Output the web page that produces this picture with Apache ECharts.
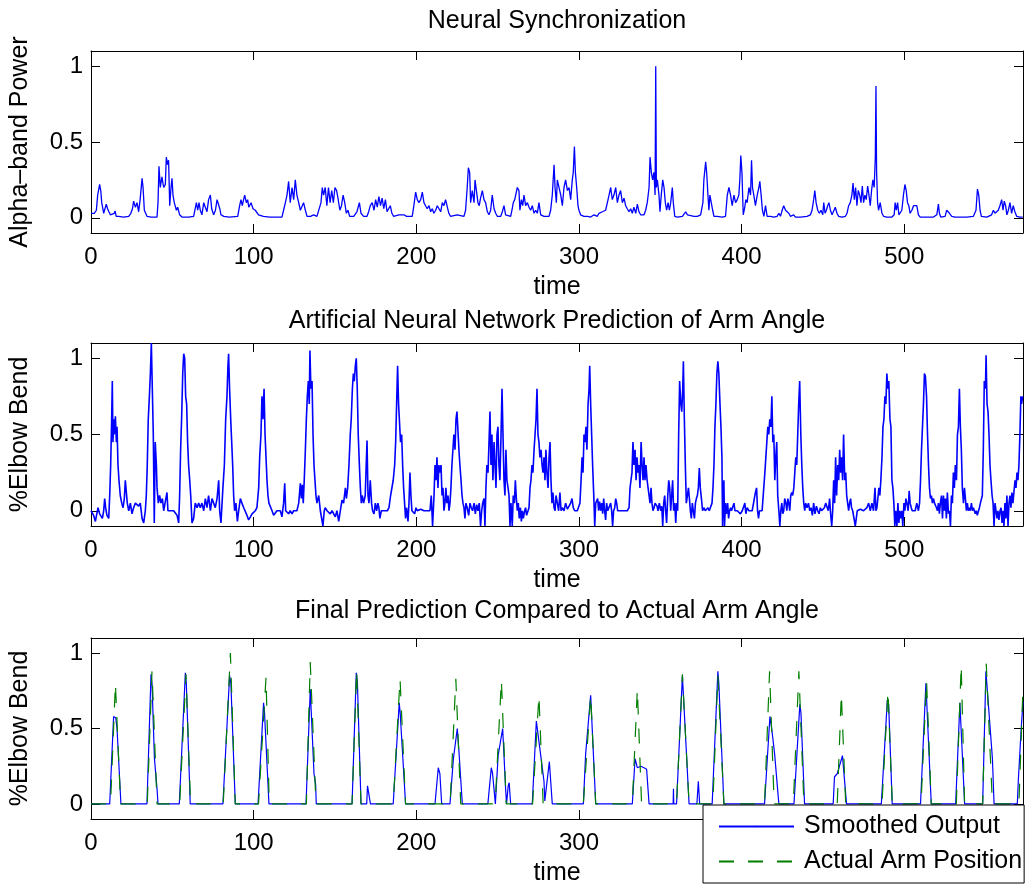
<!DOCTYPE html>
<html>
<head>
<meta charset="utf-8">
<script src="https://cdn.jsdelivr.net/npm/echarts@6/dist/echarts.min.js"></script>
<style>
  html, body { margin: 0; background: #fff; }
  #chart { width: 1030px; height: 888px; }
</style>
</head>
<body>
<div id="chart"></div>
<script>
const FONT = 'Liberation Sans, Arial, Helvetica, sans-serif';

const xTickValues = [0, 100, 200, 300, 400, 500];
const yTickValues = [0, 0.5, 1];
const panelTitles = ['Neural Synchronization', 'Artificial Neural Network Prediction of Arm Angle', 'Final Prediction Compared to Actual Arm Angle'];
const yNames = ['Alpha–band Power', '%Elbow Bend', '%Elbow Bend'];
const legendNames = ['Smoothed Output', 'Actual Arm Position'];

// [time, alpha-band power]
const alphaPower = [
  [0,0.03],[1,0.035],[2,0.03],[3.3,0.05],[4.1,0.15],[5.3,0.22],[6,0.18],[6.6,0.1],[7.8,0.03],[8.6,0.04],[9.4,0.09],[10.2,0.06],
  [11,0.04],[11.9,0.02],[13,0.01],[14.3,0.03],[14.8,0.045],[15.5,0.01],[17,0.01],[20,0.005],[23.2,0.01],[24.5,0.03],[25.5,0.06],
  [26.2,0.11],[27.3,0.07],[28.3,0.1],[29.3,0.04],[30.2,0.12],[31.4,0.26],[32,0.2],[32.8,0.05],[34.4,0.01],[37,0.005],[40.6,0.005],
  [41.2,0.1],[41.8,0.34],[42.6,0.2],[43.6,0.27],[44.7,0.2],[45.7,0.22],[46.3,0.4],[47.1,0.35],[47.7,0.38],[48.4,0.08],[49.2,0.2],
  [49.8,0.26],[50.4,0.15],[51.2,0.1],[52.5,0.05],[53.3,0.07],[54.5,0.02],[55.9,0.005],[60,0.005],[63.1,0.01],[64.8,0.1],[65.6,0.05],
  [66.4,0.1],[67.2,0.05],[68.2,0.02],[69.3,0.1],[70.3,0.1],[71.3,0.04],[72.3,0.12],[73.4,0.15],[74.2,0.06],[75.4,0.02],[76.5,0.05],
  [77.5,0.12],[78.5,0.13],[79.2,0.06],[79.9,0.02],[81.6,0.01],[85,0.005],[90.2,0.01],[91.4,0.08],[92.2,0.12],[93,0.08],[93.4,0.1],
  [94.5,0.15],[95.5,0.1],[96.3,0.12],[97,0.07],[97.5,0.08],[98.4,0.1],[99.6,0.06],[101,0.05],[103,0.02],[106,0.01],[110,0.005],
  [117.4,0.005],[118.4,0.05],[119.5,0.1],[120.5,0.15],[121.5,0.24],[122.5,0.1],[123.6,0.2],[124.6,0.12],[125.6,0.25],[126.6,0.15],
  [127.7,0.1],[128.7,0.05],[129.7,0.04],[130.7,0.1],[131.8,0.05],[132.8,0.01],[135,0.01],[136.9,0.02],[137.9,0.03],[138.9,0.01],
  [140,0.02],[141.4,0.1],[142.2,0.2],[143,0.15],[144,0.2],[145,0.08],[146,0.2],[147,0.1],[148,0.18],[149,0.1],[150,0.2],[151,0.18],
  [152,0.12],[153,0.05],[154,0.08],[155,0.15],[156,0.1],[157,0.03],[158,0.05],[159,0.01],[161.5,0.01],[163.5,0.04],[164.5,0.03],
  [165,0.1],[166,0.03],[167.6,0.01],[169.7,0.01],[170.7,0.04],[171.7,0.08],
  [172.9,0.1],[174,0.05],[175,0.12],[176,0.07],[177,0.14],[178,0.08],[179,0.13],[180,0.06],[181,0.12],[182,0.04],[183,0.05],
  [184,0.08],[185,0.03],[186,0.01],[189.3,0.02],[190.5,0.01],[192.4,0.02],[194,0.01],[197.5,0.01],[198.5,0.08],[199.6,0.17],
  [200.6,0.12],[201.6,0.1],[202.7,0.12],[203.7,0.17],[204.7,0.1],[205.7,0.08],[206.7,0.06],[207.8,0.08],[208.8,0.04],[209.8,0.06],
  [210.8,0.03],[211.9,0.05],[212.9,0.08],[213.9,0.09],[215,0.04],[216,0.1],[217,0.08],[218,0.12],[219,0.13],[220,0.03],[221,0.01],
  [225.2,0.02],[229.3,0.01],[230.3,0.05],[231.3,0.2],[232,0.33],[232.8,0.3],[233.4,0.1],[234.4,0.18],[235.5,0.1],[236.1,0.25],
  [237.1,0.25],[237.9,0.1],[238.7,0.08],[239.5,0.13],[240.6,0.18],[241.6,0.12],[242.6,0.1],[243.7,0.04],[244.7,0.02],[245.7,0.05],
  [246.7,0.15],[247.8,0.06],[248.8,0.03],[249.8,0.01],[251.9,0.01],[252.9,0.04],[253.9,0.08],[254.9,0.02],[256,0.01],[258,0.01],
  [259,0.06],[259.6,0.1],[260.5,0.12],[261.3,0.13],[262.1,0.2],[263.1,0.18],[263.7,0.05],[264.6,0.12],[265.4,0.08],[266.2,0.15],
  [267.2,0.08],[268.3,0.1],[269.3,0.07],[270.3,0.05],[271.3,0.08],[272.4,0.03],[273.4,0.05],[274.4,0.03],[275.4,0.1],[276.5,0.02],
  [278.5,0.01],[281.6,0.01],[282.6,0.05],[283.6,0.15],[284.7,0.35],[285.3,0.2],[286.1,0.1],[286.7,0.25],[287.7,0.24],[288.8,0.15],
  [289.8,0.08],[290.8,0.2],[291.8,0.25],[292.9,0.18],[293.9,0.2],[294.9,0.12],[295.9,0.25],[296.5,0.3],[297.2,0.47],[297.8,0.3],
  [298.6,0.2],[299.4,0.08],[300,0.05],[301,0.02],[303.1,0.01],[305.2,0.01],[307.2,0.005],[309.3,0.02],[311.3,0.01],[312.3,0.03],
  [313.4,0.02],[314.4,0.04],[315.4,0.03],[316.4,0.05],[317.4,0.05],[318.5,0.15],[319.5,0.2],[320.5,0.12],[321.5,0.15],[322.6,0.2],
  [323.6,0.1],[324.6,0.15],[325.6,0.18],[326.7,0.1],[327.7,0.13],[328.7,0.08],[329.7,0.06],[330.8,0.04],[331.8,0.06],[332.8,0.03],
  [333.8,0.07],[334.9,0.03],[335.9,0.09],[336.9,0.04],[337.9,0.02],[339,0.03],[340,0.02],[341,0.05],[342,0.1],[343.1,0.2],
  [343.7,0.4],[344.5,0.3],[345.3,0.25],[346.1,0.3],[346.8,0.15],[347.2,1.0],[347.6,0.2],[348.2,0.25],[349.2,0.15],[349.8,0.04],
  [350.6,0.15],[351.5,0.25],[352.3,0.2],[353.1,0.1],[353.9,0.05],[354.8,0.1],[355.6,0.05],[356.4,0.1],[357.4,0.2],[358,0.1],
  [358.9,0.01],[360.5,0.005],[363.6,0.01],[364.6,0.02],[365.6,0.04],[366.7,0.02],[367.7,0.01],[370.7,0.01],[372.8,0.01],[374.8,0.02],
  [375.5,0.03],[376.2,0.1],[376.8,0.25],[377.9,0.37],[378.5,0.3],[379.3,0.15],[379.9,0.05],[380.5,0.15],[381.3,0.16],[382.2,0.05],
  [383,0.01],[385,0.01],[388,0.005],[390.1,0.01],[391.2,0.15],[392.2,0.2],[393.2,0.15],[394.2,0.08],[395.3,0.15],[396.3,0.1],
  [397.3,0.12],[398.3,0.15],[398.9,0.25],[399.5,0.41],[400.2,0.3],[401,0.02],[401.8,0.06],[402.6,0.12],[403.4,0.1],[404.5,0.2],
  [405.5,0.15],[406.1,0.38],[406.7,0.2],[407.5,0.15],[408.5,0.08],[409.6,0.15],[410.6,0.2],[411.2,0.24],[412,0.15],[412.8,0.05],
  [413.7,0.01],[414.7,0.08],[415.7,0.01],[417.7,0.01],[419.8,0.005],[421.8,0.01],[422.9,0.03],[423.9,0.01],[424.9,0.05],[425.9,0.08],
  [427,0.05],[428,0.06],[429,0.03],[430,0.01],[431,0.02],[432,0.02],[433.1,0.005],[436.2,0.005],[440.2,0.01],[442.3,0.02],
  [443.3,0.05],[444.3,0.12],[445,0.18],[445.8,0.1],[446.8,0.05],[447.8,0.03],[448.8,0.05],[449.9,0.02],[450.5,0.1],[451.3,0.03],
  [452.1,0.05],[452.9,0.08],[453.7,0.1],[454.6,0.05],[455.6,0.02],[456.6,0.03],[457.6,0.07],[458.6,0.03],[459.7,0.01],[461.7,0.005],
  [463.8,0.01],[464.8,0.03],[465.8,0.08],[466.8,0.1],[467.8,0.15],[468.5,0.23],[469.3,0.12],[470.1,0.2],[470.9,0.08],[471.7,0.18],
  [472.6,0.15],[473.4,0.1],[474.2,0.21],[475,0.1],[475.8,0.15],[476.6,0.12],[477.5,0.21],[478.3,0.15],[479.1,0.08],[479.9,0.18],
  [480.7,0.25],[481.5,0.2],[482.2,0.4],[482.6,0.87],[483,0.3],[483.6,0.1],[484.2,0.05],[485.2,0.1],[486.3,0.03],[487.3,0.01],
  [489.3,0.005],[492.4,0.005],[493.8,0.02],[494.4,0.1],[495.1,0.05],[495.9,0.1],[496.7,0.02],[497.5,0.01],[498.5,0.05],[499.5,0.15],
  [500.4,0.22],[501.2,0.18],[502,0.1],[502.8,0.08],[503.6,0.03],[504.7,0.05],[505.7,0.08],[506.7,0.09],[507.7,0.08],[508.7,0.02],
  [509.8,0.005],[518,0.005],[520,0.02],[521,0.09],[521.6,0.03],[522.4,0.005],[525.1,0.01],[526.1,0.05],[526.7,0.06],[527.8,0.03],
  [529.2,0.01],[531.2,0.005],[538.4,0.005],[542.5,0.01],[544.1,0.05],[545,0.19],[545.8,0.15],[546.6,0.05],[547.4,0.01],[550.7,0.005],
  [553.7,0.02],[554.8,0.05],[555.8,0.03],[556.8,0.02],[557.8,0.05],[558.8,0.08],[559.9,0.12],[560.7,0.05],[561.5,0.11],[562.3,0.08],
  [563.1,0.02],[564,0.05],[565,0.1],[566,0.03],[567,0.08],[568,0.04],[569.1,0.01],[571.1,0.005],[572.8,0.005]
];

// [time, network prediction of elbow bend]
const annPrediction = [
  [0,0],[0.6,0],[1.6,-0.03],[2.7,-0.07],[3.7,-0.08],[4.3,0.02],[5.3,-0.02],[6.1,-0.01],[7,-0.05],[7.8,0],[8.4,0.08],[9,0.02],
  [9.8,-0.03],[10.9,-0.05],[11.5,0.1],[12.1,0.3],[12.7,0.6],[13.1,0.85],[13.5,0.45],[13.9,0.6],[14.3,0.5],[15,0.62],[15.6,0.45],
  [16,0.55],[16.6,0.3],[17.2,0.2],[18,0.1],[18.9,0.05],[19.7,0.02],[20.5,0.08],[21.1,0.2],[21.7,0.2],[22.3,0.05],[23.2,0],
  [24.2,0.05],[25.2,-0.02],[26.2,0.02],[27.3,0.05],[28.3,0.06],[29.3,0.03],[30.3,0.05],[31.4,-0.05],[32.4,-0.08],[33.4,0],[34,0.1],
  [34.6,0.3],[35.2,0.6],[35.9,0.75],[36.5,0.9],[37.1,1.1],[37.7,0.8],[38.3,0.5],[38.9,-0.08],[39.5,0.45],[40.2,0.3],[40.6,0.15],
  [41.4,0.05],[42.2,0.1],[43,0.05],[43.9,0.08],[44.7,0],[45.7,0],[46.7,0.12],[47.3,0],[48.8,0],[50.8,0],[51.8,0],[52.9,-0.03],
  [53.9,-0.08],[54.5,0.1],[55.1,0.4],[55.7,0.6],[56.4,0.9],[57,1.03],[57.6,1.0],[58.2,0.75],[58.8,0.7],[59.4,0.45],[60,0.3],
  [60.7,0.2],[61.3,0.1],[62.1,-0.08],[63.1,-0.05],[64.1,0.05],[65.2,0.02],[66.2,0.05],[67.2,0.02],[68.2,0.05],[69.3,0],[70.3,0.08],
  [71.3,0.02],[72.3,0.1],[73.4,0],[74.4,0.08],[75.4,0.05],[76.4,0.02],[77.5,0.08],[78.5,0.2],[79.1,0],[79.9,-0.08],[81.1,0.15],
  [82,0.3],[82.8,0.6],[83.6,0.75],[84.2,0.95],[84.6,1.03],[85.2,0.8],[85.9,0.6],[86.5,0.45],[87.1,0.3],[87.7,0.1],[88.3,0],
  [89.1,0.05],[90,-0.07],[90.8,0],[91.8,0.08],[92.8,0.05],[93.9,0.02],[94.9,0.02],[95.9,-0.03],[96.9,-0.06],[98,-0.04],[99,-0.02],
  [100,-0.02],[101,0],[102,0.02],[103.1,0.15],[103.7,0.35],[104.5,0.5],[105.1,0.75],[105.7,0.6],[106.4,0.8],[107,0.5],[107.6,0.35],
  [108.2,0.2],[108.8,0.1],[109.4,0.05],[110.2,0.05],[111.3,0],[112.3,-0.03],[113.3,-0.04],[114.3,0],[115.4,-0.01],[116.4,0],
  [117.4,-0.04],[118.4,0.05],[119.1,0.18],[119.7,0],[120.5,0],[121.5,-0.02],[122.5,0],[123.6,-0.02],[124.6,0],[125.6,0],[126.6,0],
  [127.7,0.05],[128.7,0.18],[129.3,0.08],[129.9,0.17],[130.5,0.05],[131.1,0.2],[131.8,0.4],[132.4,0.6],[133,0.75],[133.6,0.85],
  [134.2,0.7],[134.6,1.05],[135.2,0.8],[135.9,0.85],[136.5,0.5],[137.1,0.3],[137.7,0.2],[138.3,0.1],[138.9,0.05],[140,0.1],[141,0],
  [142,0],[142.6,-0.1],[143.4,0],[144,0.02],[145.1,0],[146.1,0],[147.1,-0.02],[148.2,0],[149.2,0],[150.2,-0.04],[151.2,0],
  [152.3,-0.07],[153.3,0],[154.3,0.07],[155.3,0.05],[156.4,0.15],[157,0.08],[157.8,0.15],[158.6,0.3],[159.4,0.5],[160,0.6],
  [160.7,0.8],[161.3,0.9],[161.9,0.85],[162.5,0.95],[163.1,1.0],[163.7,0.8],[164.3,0.5],[165,0.3],[165.6,0.15],[166.2,0.05],
  [166.8,0.1],[167.6,0.05],[168.6,0.1],[169.7,0.46],[170.3,0.1],[170.9,0.05],[171.7,0.2],
  [172.5,0.05],[173.1,0],[174,-0.02],[174.8,0.05],[175.6,0],[176.4,0.05],[177,0.02],[177.6,-0.05],[178.5,0],[179.3,0.01],[180.1,0],
  [181.1,-0.01],[182.2,0],[183.2,0.02],[184.2,0.1],[185.2,0.1],[185.8,0.2],[186.7,0.3],[187.3,0.45],[187.9,0.7],[188.5,0.95],
  [189.1,0.7],[189.7,0.69],[190.3,0.45],[191,0.5],[191.6,0.3],[192.2,0.15],[192.8,0.05],[193.4,-0.05],[194,0.02],[194.9,-0.07],
  [195.5,0.05],[196.1,0.25],[196.7,0.1],[197.3,0],[198.1,0],[199,-0.02],[199.8,0.02],[200.6,0],[201.6,0],[202.7,0.01],[203.7,0],
  [204.7,0],[205.7,0],[206.8,0],[207.8,0],[208.4,0],[209.2,0.1],[210,-0.1],[210.9,0.1],[211.5,0.3],[212.1,0.2],[212.7,0.35],
  [213.3,0.15],[213.9,0.3],[214.5,0.25],[215.2,0.3],[215.8,0.1],[216.4,0.15],[217,0],[217.6,0.05],[218.2,0.15],[218.8,0.05],
  [219.5,0.1],[220.1,0],[220.7,0.05],[221.3,0.15],[221.9,0.3],[222.5,0.4],[223.1,0.5],[223.8,0.4],[224.4,0.6],[225,0.65],
  [225.6,0.64],[226.2,0.4],[226.8,0.3],[227.5,0.2],[228.1,0.1],[228.7,0.05],[229.3,0.02],[229.9,-0.05],[230.5,0.05],[231.3,0.02],
  [232.2,-0.03],[233,0.05],[233.8,0.02],[234.6,0],[235.5,0.05],[236.3,-0.02],[237.1,0.04],[237.9,0],[238.7,0.05],[239.5,-0.1],
  [240.2,0],[240.8,0.05],[241.6,0.08],[242.2,-0.1],[242.8,0.15],[243.4,0.3],[244.1,0.25],[244.7,0.45],[245.3,0.65],[245.9,0.3],
  [246.5,0.5],[247.1,0.2],[247.8,0.45],[248.4,0.3],[249,0.15],[249.6,0.5],[250.2,0.55],[250.8,0.3],[251.4,0.2],[252.1,0.5],
  [252.7,0.8],[253.3,0.5],[253.9,0.2],[254.5,0.1],[255.1,0.4],[255.7,0.2],[256.4,0.15],[257,0.1],[257.6,-0.1],[258.2,0.05],
  [259,-0.1],[259.6,0.1],[260.3,0.05],[260.9,0.2],[261.5,0.08],[262.1,0],[262.7,0.05],[263.3,-0.05],[264,0.02],[264.6,-0.07],
  [265.2,0],[265.8,-0.05],[266.6,0],[267.2,0.02],[267.8,-0.03],[268.7,0],[269.3,0.02],[269.9,0.15],[270.5,0.2],[271.1,0.3],
  [271.7,0.25],[272.4,0.4],[273,0.5],[273.6,0.6],[274.2,0.8],[274.8,0.5],[275.4,0.45],[276,0.35],[276.7,0.4],[277.3,0.3],
  [277.9,0.25],[278.5,0.35],[279.1,0.2],[279.7,0.4],[280.3,0.25],[281,0.15],[281.6,0.35],[282.2,0.45],[282.8,0.2],[283.4,0.05],
  [284,0.12],[284.7,0.02],[285.3,0],[285.9,0.1],[286.7,0.05],[287.5,0],[288.3,0.12],[289,0],[289.8,0.02],[290.8,0],[291.8,0.05],
  [292.9,0.01],[293.9,0],[294.9,0.05],[295.7,0.08],[296.5,0.02],[297.4,0],[298.2,0],[299,0],[300,0],[300.6,0.05],[301.3,0.2],
  [301.9,0.35],[302.5,0.25],[303.1,0.5],[303.7,0.45],[304.3,0.55],[304.9,0.4],[305.6,0.7],[306.2,0.8],[306.6,0.95],[307.2,0.7],
  [307.8,0.5],[308.4,0.3],[309.1,0.1],[309.7,-0.1],[310.3,0.05],[310.9,0.05],[311.5,0.08],[312.1,0],[312.7,0.06],[313.4,0],
  [314,0.05],[314.6,-0.02],[315.2,0.08],[315.8,0],[316.4,-0.06],[317,0.05],[317.7,0],[318.5,0],[319.5,0.05],[320.1,0],[320.7,-0.1],
  [321.3,0],[322,0.02],[322.6,0.08],[323.2,0.05],[323.8,0],[324.6,0],[325.6,0],[326.7,0],[327.7,0],[328.7,0],[329.7,0],
  [330.8,0.02],[331.4,0.15],[332,0.2],[332.6,0.25],[333.2,0.45],[333.8,0.3],[334.5,0.4],[335.1,0.2],[335.7,0.35],[336.3,0.25],
  [336.9,0.3],[337.5,0.15],[338.2,0.45],[338.8,0.3],[339.4,0.2],[340,0.35],[340.6,0.2],[341.2,0.3],[341.9,0.2],[342.5,0.15],
  [343.1,0.1],[343.7,0.05],[344.3,0.15],[344.9,0.05],[345.5,0],[346.2,0.02],[346.8,0.05],[347.4,0.05],[348,0.03],[348.6,0],
  [349.4,0.05],[350.3,0],[350.9,0.03],[351.5,-0.1],[352.1,0.05],[352.7,0.1],[353.3,0],[353.9,-0.08],[354.6,0.1],[355.2,0.2],
  [355.8,0.15],[356.4,0],[357,0.1],[357.6,0.2],[358.2,0],[358.9,0.05],[359.5,-0.08],[360.1,0.05],[360.7,0],[361.3,0.5],
  [361.9,0.85],[362.6,0.7],[363.2,0.65],[363.8,0.8],[364.2,0.98],[364.8,0.6],[365.4,0.3],[366,0.05],[366.7,0.1],[367.3,0.15],
  [367.9,0.08],[368.5,0],[369.1,-0.05],[369.7,0.05],[370.3,0],[371,-0.05],[371.6,0.05],[372.2,0.08],[372.8,0.1],[373.4,0.15],
  [374,0.28],[374.6,0.15],[375.3,0.08],
  [376,0],[376.8,0.02],[377.7,0],[378.5,0.01],[379.3,0.02],[380.1,0],[380.9,0],[381.8,0.05],[382.4,0.15],[383,0.3],[383.6,0.55],
  [384.2,0.7],[384.8,0.9],[385.4,0.98],[386,0.9],[386.7,0.7],[387.3,0.55],[387.9,0.35],[388.3,-0.1],[388.7,0.1],[389.1,0.2],
  [389.5,-0.1],[390.1,0.05],[390.7,-0.02],[391.4,0.05],[392,-0.05],[392.6,0],[393.2,0.02],[393.8,0],[394.4,0],[395.3,0.05],
  [395.9,0],[396.5,0.01],[397.3,0],[398.3,0],[399.3,-0.02],[400.4,0],[401.4,0],[402,0.05],[402.6,-0.02],[403.4,0.02],[404.5,0],
  [405.5,0],[406.5,0],[407.5,0],[408.5,0.12],[409.2,0.15],[409.8,0],[410.4,-0.05],[411,0],[411.6,0],[412.6,0],[413.7,0],
  [414.3,0.25],[414.9,0.35],[415.5,0.45],[416.1,0.55],[416.7,0.5],[417.3,0.6],[418,0.55],[418.6,0.75],[419.2,0.45],[419.8,0.5],
  [420.4,0.2],[421,0.35],[421.6,0.45],[422.2,0.1],[422.9,0],[423.5,-0.1],[424.1,0],[424.7,0.05],[425.3,-0.02],[425.9,0],
  [426.5,0.08],[427.2,0.05],[427.8,0],[428.4,0.08],[429,0.05],[429.6,0],[430.2,0.1],[430.8,0.12],[431.4,0.1],[432.1,0.15],
  [432.7,0.25],[433.3,0.35],[433.9,0.3],[434.5,0.5],[435.1,0.7],[435.7,0.85],[436.4,0.5],[437,0.3],[437.6,0.15],[438.2,0.05],
  [438.8,0],[439.4,0.05],[440.2,0.02],[441.1,0.05],[441.9,0],[442.7,0.02],[443.5,-0.03],[444.3,0.05],[445.1,-0.02],[446,0.03],
  [446.8,0],[447.6,-0.02],[448.4,0.02],[449.2,0],[450,0],[450.9,0.02],[451.7,0.05],[452.5,0.05],[453.3,0],[454.1,0.08],
  [454.8,-0.03],[455.4,-0.1],[456,0],[456.6,0.2],[457.2,0.05],[457.8,0.35],[458.4,0.1],[459.1,0.3],[459.7,0.2],[460.3,0.4],
  [460.9,0.25],[461.5,0.35],[462.1,0.2],[462.7,0.5],[463.4,0.2],[464,0.25],[464.6,0.1],[465.2,0.05],[465.8,0],[466.4,0.05],
  [467,0.08],[467.6,0.02],[468.3,0],[468.9,0],[469.9,-0.1],[470.5,-0.05],[471.1,0],[471.9,0],[473,0.01],[474,0],[475,0],[476,0],
  [477,0.02],[478.1,0.05],[479.1,0],[480.1,0.05],[481.1,0],[482,0.15],[482.6,0],[483.2,0.02],[483.8,0.03],[484.4,0.15],[485,0.1],
  [485.6,0.2],[486.3,0.35],[486.9,0.55],[487.5,0.6],[488.1,0.75],[488.7,0.7],[489.3,0.9],[489.9,0.8],[490.5,0.85],[491.2,0.6],
  [491.8,0.55],[492.4,0.2],[493,0.15],[493.6,0.05],[494.2,-0.1],[494.8,0],[495.5,-0.1],[496.1,0.05],[496.7,-0.08],[497.3,0],
  [497.9,-0.05],[498.5,0],[499.1,-0.1],[499.8,0.05],[500.4,0],[501,0.08],[501.6,0.05],[502.4,0],[503,0.13],[503.6,0.05],
  [504.3,0.02],[504.9,0],[505.7,0],[506.7,0],[507.7,0.05],[508.7,0],[509.4,0.05],[510,0.2],[510.6,0.4],[511.2,0.55],[511.8,0.7],
  [512.4,0.9],[513,0.88],[513.7,0.75],[514.3,0.5],[514.9,0.3],[515.5,0.15],[516.1,0.08],[516.7,0.1],[517.3,0.05],[518,0.08],
  [518.6,0.05],[519.2,0.05],[519.8,0.02],[520.4,0],[521,0.05],[521.6,-0.02],[522.2,0.05],[522.9,0.1],[523.5,-0.05],[524.1,0.1],
  [524.7,0],[525.3,0.08],[525.9,-0.05],[526.5,0.12],[527.2,-0.02],[527.8,0],[528.4,-0.1],[529,0.1],[529.6,0.05],[530.2,0.25],
  [530.8,0.15],[531.4,0.3],[532.1,0.2],[532.7,0.5],[533.3,0.55],[533.9,0.8],[534.5,0.55],[535.1,0.4],[535.7,0.15],[536.4,0.05],
  [537,0.15],[537.6,0.08],[538.2,0],[538.8,0.05],[539.4,0],[540,0.02],[540.6,0],[541.3,0.05],[541.9,0],[542.5,0.02],[543.1,0],
  [543.7,-0.02],[544.3,0],[544.9,-0.03],[545.6,-0.04],[546.2,0.02],[546.8,0.05],[547.4,0.05],[548,0.1],[548.6,0.4],[549.2,0.85],
  [549.9,0.8],[550.3,1.02],[550.9,0.7],[551.5,0.65],[552.1,0.5],[552.7,0.3],[553.3,0.2],[554,0.1],[554.6,0.05],[555.2,-0.1],
  [555.8,0.05],[556.4,0],[557,-0.05],[557.6,0],[558.2,-0.06],[558.9,0],[559.5,0.02],[560.1,-0.08],[560.7,0],[561.3,-0.1],
  [561.9,0.05],[562.5,-0.05],[563.1,0.1],[563.8,-0.1],[564.4,0.05],[565,0.1],[565.6,0.02],[566.2,0.12],[566.8,0.05],[567.4,0.12],
  [568.1,0.2],[568.7,0.15],[569.3,0.25],[569.9,0.2],[570.5,0.3],[571.1,0.5],[571.7,0.75],[572.1,0.7],[572.8,0.75]
];

// [time, smoothed output]
const smoothedOutput = [
  [0,0],[11.5,0],[13.9,0.58],[14.5,0.59],[15.2,0.57],[16,0.5],[18.4,0],[34.4,0],[36.9,0.86],[37.5,0.8],[39,0.3],[40.6,0.1],
  [41.2,0],[54.3,0],[58,0.87],[58.6,0.8],[61,0],[81.1,0],[85.2,0.85],[86,0.8],[88.7,0],[102.7,0],[106.1,0.67],[106.7,0.6],
  [109.4,0],[132.2,0],[134.8,0.76],[135.8,0.75],[137.1,0.2],[138.1,0.13],[138.5,0],[160.5,0],[163.1,0.87],[163.8,0.8],[166,0],
  [169.5,0],[170,0.12],[171.2,0.13],[171.8,0],[185.8,0],[189.5,0.67],[190.1,0.6],[193.4,0],[211.5,0],[213.5,0.24],[214.5,0.2],
  [215.6,0],[220.7,0],[222.8,0.3],[225.2,0.5],[226.2,0.35],[228.3,0],[244,0],[246.1,0.24],[246.9,0.2],[248.6,0],[250.3,0.32],
  [253.1,0.5],[254.9,0.1],[255.5,0],[256.5,0.12],[257.1,0.14],[258,0],[271.3,0],[273.8,0.55],[276.5,0.32],[278.5,0.15],
  [279,0.02],[281.8,0.28],[283.6,0],[302.7,0],[304.1,0.33],[307.2,0.72],[310.3,0],[332.8,0],[334.5,0.3],[335.9,0.24],[338,0.25],
  [340,0.24],[341.6,0.23],[343.1,0],[357.9,0],[358.1,0.1],[358.3,0],[360,0],[363.6,0.85],[367.7,0],[372.5,0],[373.4,0.15],
  [374.2,0],[381.9,0],[385.4,0.88],[386,0.8],[389.1,0],[414.1,0],[417.4,0.58],[418.5,0.5],[420.3,0.33],[422.9,0],[432.2,0],
  [435.8,0.66],[436.5,0.6],[438.7,0],[456.3,0],[457.1,0.18],[458.8,0.2],[462,0.32],[464.5,0],[485.9,0],[489.6,0.69],[490.4,0.66],
  [492.6,0],[510,0],[513.3,0.8],[516.6,0],[531.6,0],[534.2,0.67],[537.1,0],[548.2,0],[550.2,0.88],[554.2,0.3],[555.2,0],
  [569.5,0],[570.1,0.15],[571.9,0.5],[573,0.68]
];

// [time, measured arm position]
const actualArmPosition = [
  [0,0],[12,0],[15,0.8],[18.2,0],[34.6,0],[37.5,0.88],[40.6,0],[54.5,0],[58.4,0.86],[61.2,0],[81.3,0],[85.7,1.0],[88.7,0],
  [103,0],[107.6,0.84],[109.6,0],[132.4,0],[134.8,0.94],[138.3,0],[160.5,0],[163.3,0.89],[166,0],[185.8,0],[190,0.83],[193.4,0],
  [220.8,0],[224.3,0.83],[227.3,0],[248.5,0],[252.3,0.82],[255.3,0],[271.5,0],[275.4,0.72],[278,0],[302.7,0],[307.2,0.72],
  [310.3,0],[332.8,0],[335.9,0.76],[338.5,0],[360,0],[363.6,0.86],[367.7,0],[382.3,0],[385.4,0.85],[389.1,0],[414.1,0],
  [417.2,0.88],[420,0],[431.8,0],[435.2,0.88],[438.3,0],[458.8,0],[461.3,0.73],[464,0],[486.3,0],[490,0.75],[492.6,0],[510.3,0],
  [513.7,0.82],[516.6,0],[532,0],[535,0.92],[537.1,0],[548.2,0],[550.4,0.93],[554.2,0],[570.5,0],[573,0.78]
];

const panels = [
  { top: 51, height: 182 },
  { top: 343, height: 183 },
  { top: 638, height: 181 }
];
const titleTops = [9, 309, 599];

const black = '#000';
const textStyle = { color: black, fontSize: 25, fontFamily: FONT };

function boxAxisBase(gridIndex, ticks) {
  return {
    type: 'value',
    gridIndex,
    splitLine: { show: false },
    axisLine: { show: true, onZero: false, lineStyle: { color: black, width: 1 } },
    axisTick: { show: true, inside: true, length: 9, customValues: ticks, lineStyle: { color: black, width: 1 } }
  };
}

function xAxesFor(i) {
  const base = Object.assign(boxAxisBase(i, xTickValues), { min: 0, max: 573 });
  return [
    Object.assign({}, base, {
      position: 'bottom',
      name: 'time',
      nameLocation: 'middle',
      nameGap: 42,
      nameTextStyle: textStyle,
      axisLabel: { customValues: xTickValues, margin: 12, color: black, fontSize: 24, fontFamily: FONT }
    }),
    Object.assign({}, base, { position: 'top', axisLabel: { show: false } })
  ];
}

function yAxesFor(i) {
  const base = Object.assign(boxAxisBase(i, yTickValues), { min: -0.1, max: 1.1 });
  return [
    Object.assign({}, base, {
      position: 'left',
      name: yNames[i],
      nameLocation: 'middle',
      nameGap: 58,
      nameTextStyle: textStyle,
      axisLabel: { customValues: yTickValues, margin: 8, color: black, fontSize: 24, fontFamily: FONT }
    }),
    Object.assign({}, base, { position: 'right', axisLabel: { show: false } })
  ];
}

function lineSeries(name, data, panel, color, width, dash) {
  return {
    name,
    type: 'line',
    data,
    xAxisIndex: panel * 2,
    yAxisIndex: panel * 2,
    symbol: 'none',
    lineStyle: { color, width, type: dash || 'solid' },
    itemStyle: { color },
    emphasis: { disabled: true },
    animation: false
  };
}

const chart = echarts.init(document.getElementById('chart'));
chart.setOption({
  backgroundColor: '#fff',
  animation: false,
  title: panelTitles.map((t, i) => ({
    text: t,
    left: 557,
    top: titleTops[i],
    textAlign: 'center',
    padding: 0,
    textStyle: { color: black, fontSize: 25, fontWeight: 'normal', fontFamily: FONT }
  })),
  grid: panels.map(p => ({ left: 91, width: 932, top: p.top, height: p.height })),
  xAxis: [0, 1, 2].flatMap(xAxesFor),
  yAxis: [0, 1, 2].flatMap(yAxesFor),
  legend: {
    data: legendNames,
    orient: 'vertical',
    left: 703,
    top: 805,
    padding: [9, 2, 9, 15],
    itemGap: 10,
    itemWidth: 75,
    itemHeight: 2,
    backgroundColor: '#fff',
    borderColor: black,
    borderWidth: 1,
    borderRadius: 0,
    selectedMode: false,
    textStyle: { color: black, fontSize: 25, fontFamily: FONT, padding: [0, 0, 0, 5] }
  },
  series: [
    lineSeries('alpha', alphaPower, 0, '#0000ff', 1.3),
    lineSeries('prediction', annPrediction, 1, '#0000ff', 1.6),
    lineSeries(legendNames[0], smoothedOutput, 2, '#0000ff', 1.2),
    lineSeries(legendNames[1], actualArmPosition, 2, '#007f00', 1.2, [15, 14])
  ]
});
</script>
</body>
</html>
